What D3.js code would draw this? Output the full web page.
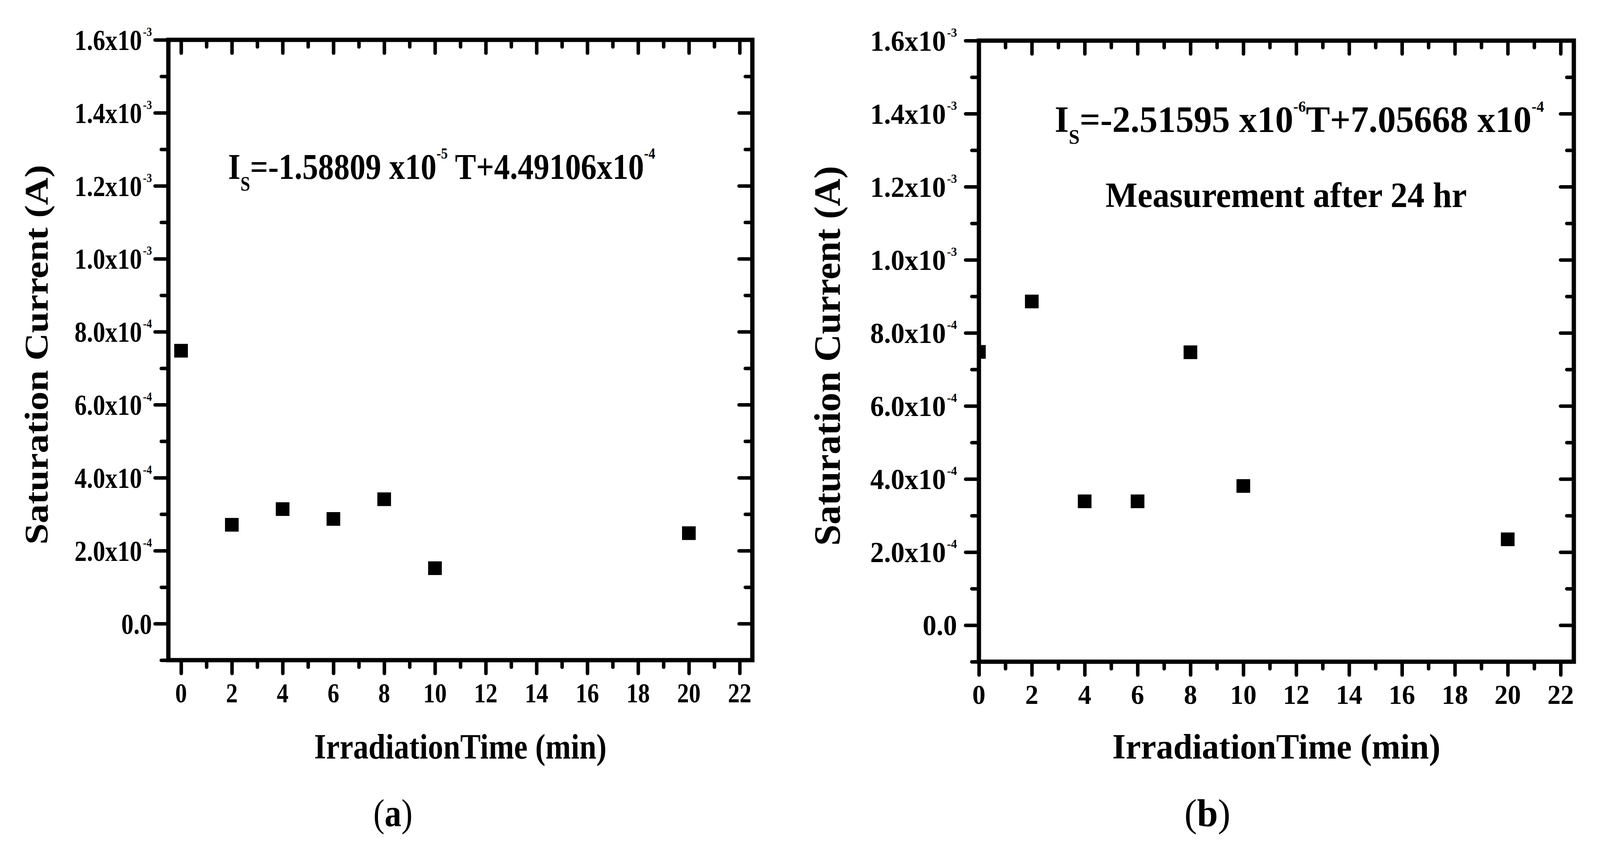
<!DOCTYPE html>
<html><head><meta charset="utf-8">
<script src="https://cdn.jsdelivr.net/npm/d3@7"></script>
<style>
body{margin:0;background:#fff}
svg{display:block;background:#fff}
text{font-family:"Liberation Serif","Times New Roman",serif;font-weight:bold;fill:#000}
</style>
</head><body>
<svg id="chart" width="4098" height="2153"></svg>
<script>
// ---------- data ----------
const timesMin = [0, 2, 4, 6, 8, 10, 20];
const currentA = [7.48e-4, 2.71e-4, 3.14e-4, 2.87e-4, 3.41e-4, 1.52e-4, 2.48e-4];
const currentB = [7.48e-4, 8.86e-4, 3.39e-4, 3.39e-4, 7.47e-4, 3.81e-4, 2.35e-4];

const xTickValues = [0, 2, 4, 6, 8, 10, 12, 14, 16, 18, 20, 22];
const xMinorValues = [1, 3, 5, 7, 9, 11, 13, 15, 17, 19, 21];
const yTickValues = [0, 2e-4, 4e-4, 6e-4, 8e-4, 1.0e-3, 1.2e-3, 1.4e-3, 1.6e-3];
const yTickMantissa = ["0.0", "2.0x10", "4.0x10", "6.0x10", "8.0x10", "1.0x10", "1.2x10", "1.4x10", "1.6x10"];
const yTickExponent = ["", "-4", "-4", "-4", "-4", "-3", "-3", "-3", "-3"];
const yMinorValues = [-1e-4, 1e-4, 3e-4, 5e-4, 7e-4, 9e-4, 1.1e-3, 1.3e-3, 1.5e-3];

const xTitle = "IrradiationTime (min)";
const yTitle = "Saturation Current (A)";
const equationA = [["I", "n"], ["S", "sub"], ["=-1.58809 x10", "n"], ["-5", "sup"], [" T+4.49106x10", "n"], ["-4", "sup"]];
const equationB = [["I", "n"], ["S", "sub"], ["=-2.51595 x10", "n"], ["-6", "sup"], ["T+7.05668 x10", "n"], ["-4", "sup"]];
const noteB = "Measurement after 24 hr";
const panelLetters = ["a", "b"];

// ---------- layout ----------
const panels = [
  {id: "a", values: currentA, left: 431, right: 1926, top: 102, bottom: 1690, xDomain: [-0.5, 22.5],
   sx: 0.86, yLabelGap: 42, yTitleX: 122, eq: equationA, eqX: 584, eqY: 458, eqSize: 94,
   note: null, labelX: 1006, letter: panelLetters[0]},
  {id: "b", values: currentB, left: 2506, right: 4029, top: 104, bottom: 1694, xDomain: [0, 22.5],
   sx: 0.965, yLabelGap: 56, yTitleX: 2150, eq: equationB, eqX: 2700, eqY: 338, eqSize: 96,
   note: noteB, noteX: 2830, noteY: 530, labelX: 3091, letter: panelLetters[1]}
];
const yDomain = [-1e-4, 1.6e-3];
const majorLen = 34, minorLen = 18, tickW = 9, frameW = 11, markerSize = 35;

const svg = d3.select("#chart");

panels.forEach(p => {
  const x = d3.scaleLinear().domain(p.xDomain).range([p.left, p.right]);
  const y = d3.scaleLinear().domain(yDomain).range([p.bottom, p.top]);
  const g = svg.append("g");

  function styleAxis(sel) {
    sel.select(".domain").remove();
    sel.selectAll("line").attr("stroke", "#000").attr("stroke-width", tickW).attr("stroke-linecap", "round");
    sel.selectAll("text").remove();
  }
  // bottom (outward)
  g.append("g").attr("transform", `translate(0,${p.bottom})`)
    .call(d3.axisBottom(x).tickValues(xTickValues).tickSize(majorLen).tickSizeOuter(0).tickFormat("")).call(styleAxis);
  g.append("g").attr("transform", `translate(0,${p.bottom})`)
    .call(d3.axisBottom(x).tickValues(xMinorValues).tickSize(minorLen).tickSizeOuter(0).tickFormat("")).call(styleAxis);
  // top (inward)
  g.append("g").attr("transform", `translate(0,${p.top})`)
    .call(d3.axisTop(x).tickValues(xTickValues).tickSize(-majorLen).tickSizeOuter(0).tickFormat("")).call(styleAxis);
  g.append("g").attr("transform", `translate(0,${p.top})`)
    .call(d3.axisTop(x).tickValues(xMinorValues).tickSize(-minorLen).tickSizeOuter(0).tickFormat("")).call(styleAxis);
  // left (outward)
  g.append("g").attr("transform", `translate(${p.left},0)`)
    .call(d3.axisLeft(y).tickValues(yTickValues).tickSize(majorLen).tickSizeOuter(0).tickFormat("")).call(styleAxis);
  g.append("g").attr("transform", `translate(${p.left},0)`)
    .call(d3.axisLeft(y).tickValues(yMinorValues).tickSize(minorLen).tickSizeOuter(0).tickFormat("")).call(styleAxis);
  // right (inward)
  g.append("g").attr("transform", `translate(${p.right},0)`)
    .call(d3.axisRight(y).tickValues(yTickValues).tickSize(-majorLen).tickSizeOuter(0).tickFormat("")).call(styleAxis);
  g.append("g").attr("transform", `translate(${p.right},0)`)
    .call(d3.axisRight(y).tickValues(yMinorValues).tickSize(-minorLen).tickSizeOuter(0).tickFormat("")).call(styleAxis);

  // frame
  g.append("rect")
    .attr("x", x.range()[0]).attr("y", y.range()[1])
    .attr("width", x.range()[1] - x.range()[0]).attr("height", y.range()[0] - y.range()[1])
    .attr("fill", "none").attr("stroke", "#000").attr("stroke-width", frameW);

  // clip + markers
  svg.append("clipPath").attr("id", "clip-" + p.id).append("rect")
    .attr("x", x.range()[0]).attr("y", y.range()[1])
    .attr("width", x.range()[1] - x.range()[0]).attr("height", y.range()[0] - y.range()[1]);
  g.append("g").attr("clip-path", `url(#clip-${p.id})`)
    .selectAll("rect").data(timesMin.map((t, i) => [t, p.values[i]])).join("rect")
    .attr("x", d => x(d[0]) - markerSize / 2).attr("y", d => y(d[1]) - markerSize / 2)
    .attr("width", markerSize).attr("height", markerSize).attr("fill", "#000");

  // x tick labels
  g.selectAll(".xl").data(xTickValues).join("text")
    .attr("transform", d => `translate(${x(d)},${p.bottom + 108}) scale(${p.sx},1)`)
    .attr("text-anchor", "middle").attr("font-size", 70).text(d => d);

  // y tick labels
  yTickValues.forEach((v, i) => {
    const t = g.append("text")
      .attr("transform", `translate(${p.left - p.yLabelGap},${y(v) + 26}) scale(${p.sx},1)`)
      .attr("text-anchor", "end").attr("font-size", 73);
    t.append("tspan").text(yTickMantissa[i]);
    if (yTickExponent[i]) t.append("tspan").attr("font-size", 32).attr("dy", -36).attr("dx", 3).text(yTickExponent[i]);
  });

  // axis titles
  g.append("text")
    .attr("transform", `translate(${(p.left + p.right) / 2},1942) scale(${p.sx},1)`)
    .attr("text-anchor", "middle").attr("font-size", 91).text(xTitle);
  g.append("text")
    .attr("transform", `translate(${p.yTitleX},${(p.top + p.bottom) / 2 + 12}) scale(${p.sx},1) rotate(-90)`)
    .attr("text-anchor", "middle").attr("font-size", 98).text(yTitle);

  // equation
  const eq = g.append("text")
    .attr("transform", `translate(${p.eqX},${p.eqY}) scale(${p.sx},1)`)
    .attr("font-size", p.eqSize);
  let shift = 0;
  p.eq.forEach(([s, kind]) => {
    const ts = eq.append("tspan").text(s);
    let target = 0;
    if (kind === "sub") { ts.attr("font-size", 52); target = 30; }
    else if (kind === "sup") { ts.attr("font-size", 40); target = -52; }
    ts.attr("dy", target - shift);
    shift = target;
  });
  if (p.note) {
    g.append("text")
      .attr("transform", `translate(${p.noteX},${p.noteY}) scale(${p.sx},1)`)
      .attr("font-size", 90).text(p.note);
  }

  // panel label
  const lab = g.append("text")
    .attr("transform", `translate(${p.labelX},2115) scale(${p.sx},1)`)
    .attr("text-anchor", "middle").attr("font-size", 100);
  lab.append("tspan").attr("font-weight", "normal").text("(");
  lab.append("tspan").text(p.letter);
  lab.append("tspan").attr("font-weight", "normal").text(")");
});
</script>
</body></html>
